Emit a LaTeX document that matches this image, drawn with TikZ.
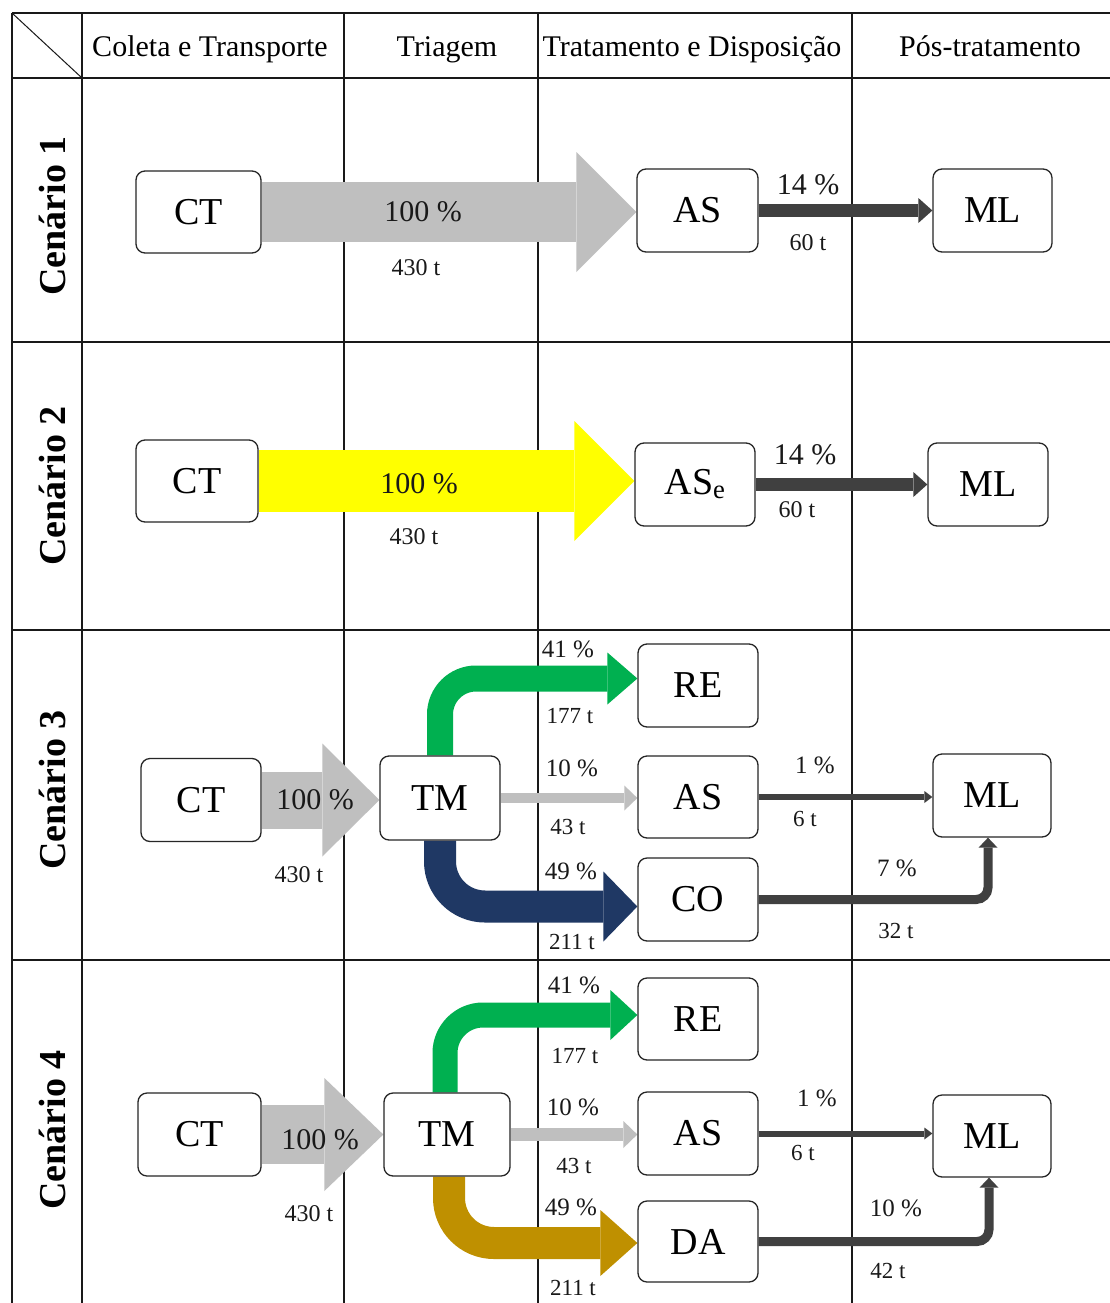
\documentclass[tikz,border=0pt]{standalone}
\usepackage{fontspec}
\setmainfont{Liberation Serif}
\usetikzlibrary{arrows.meta}
\pgfdeclarelayer{back}
\pgfdeclarelayer{mid}
\pgfsetlayers{back,mid,main}
\definecolor{cgray}{RGB}{191,191,191}
\definecolor{cyellow}{RGB}{255,255,0}
\definecolor{cgreen}{RGB}{0,176,80}
\definecolor{cnavy}{RGB}{31,56,100}
\definecolor{cgold}{RGB}{191,144,0}
\definecolor{cdark}{RGB}{64,64,64}
\begin{document}
\begin{tikzpicture}[x=1pt,y=-1pt,
  box/.style={draw=black!85, line width=1.3pt, rounded corners=9pt, fill=white,
    minimum width=120pt, minimum height=83pt, inner sep=0pt,
    font=\fontsize{38}{40}\selectfont},
  pct/.style={font=\fontsize{30}{32}\selectfont, inner sep=0pt, text=black!90},
  ton/.style={font=\fontsize{24}{26}\selectfont, inner sep=0pt, text=black!90},
  spct/.style={font=\fontsize{25}{27}\selectfont, inner sep=0pt, text=black!90},
  ston/.style={font=\fontsize{23}{25}\selectfont, inner sep=0pt, text=black!90},
  hdr/.style={font=\fontsize{30}{32}\selectfont, anchor=base, inner sep=0pt},
  cen/.style={font=\bfseries\fontsize{38}{40}\selectfont, rotate=90, anchor=base, inner sep=0pt},
  grid/.style={line width=1.4pt, black!90},
  flow/.style={line width=#1},
]
\useasboundingbox (0,0) rectangle (1110,1303);

% ---------- table ----------
\begin{pgfonlayer}{back}
\fill[white] (0,0) rectangle (1110,1303);
\draw[grid] (12,13) -- (1110,13);
\draw[grid, line width=2.2pt] (12,78) -- (1110,78);
\draw[grid] (12,342) -- (1110,342);
\draw[grid] (12,630) -- (1110,630);
\draw[grid] (12,960) -- (1110,960);
\foreach \xx in {12,82,344,538,852} {\draw[grid] (\xx,13) -- (\xx,1303);}
\draw[line width=1pt, black!90] (12,13) -- (82,78);
\end{pgfonlayer}

% ---------- header ----------
\node[hdr] (h1) at (210,57) {Coleta e Transporte};
\node[hdr] (h2) at (447,57) {Triagem};
\node[hdr] (h3) at (692,57) {Tratamento e Disposição};
\node[hdr] (h4) at (990,57) {Pós-tratamento};

\node[cen] (c1) at (65,216) {Cenário 1};
\node[cen] (c2) at (65,486) {Cenário 2};
\node[cen] (c3) at (65,790) {Cenário 3};
\node[cen] (c4) at (65,1130) {Cenário 4};

% ---------- boxes ----------
\node[box, minimum width=125pt, minimum height=82pt] (CT1) at (198.5,212) {CT};
\node[box, minimum width=121pt] (AS1) at (697.5,210.5) {AS};
\node[box, minimum width=119pt] (ML1) at (992.5,210.5) {ML};

\node[box, minimum width=122pt, minimum height=82pt] (CT2) at (197,481) {CT};
\node[box] (ASe) at (695,484.5) {AS\textsubscript{e}};
\node[box] (ML2) at (988,484.5) {ML};

\node[box] (CT3) at (201,800) {CT};
\node[box, minimum height=84pt] (TM3) at (440,798) {TM};
\node[box] (RE3) at (698,685.5) {RE};
\node[box, minimum height=82pt] (AS3) at (698,797) {AS};
\node[box] (CO3) at (698,899.5) {CO};
\node[box, minimum width=118pt] (ML3) at (992,795.5) {ML};

\node[box, minimum width=123pt] (CT4) at (199.5,1134.5) {CT};
\node[box, minimum width=126pt] (TM4) at (447,1134.5) {TM};
\node[box, minimum height=82pt] (RE4) at (698,1019) {RE};
\node[box] (AS4) at (698,1133.5) {AS};
\node[box, minimum height=81pt] (DA4) at (698,1241.5) {DA};
\node[box, minimum width=118pt, minimum height=82pt] (ML4) at (992,1136) {ML};

% ---------- flows ----------
\begin{pgfonlayer}{mid}
% scenario 1
\draw[flow=60pt, cgray, -{Triangle[length=60pt,width=120pt,line width=0pt]}]
  (CT1.east) -- (CT1.east -| AS1.west);
\draw[flow=13pt, cdark, -{Triangle[length=14pt,width=25pt,line width=0pt]}]
  (AS1.east) -- (AS1.east -| ML1.west);
% scenario 2
\draw[flow=62pt, cyellow, -{Triangle[length=60pt,width=120pt,line width=0pt]}]
  (CT2.east) -- (CT2.east -| ASe.west);
\draw[flow=13pt, cdark, -{Triangle[length=14pt,width=25pt,line width=0pt]}]
  (ASe.east) -- (ASe.east -| ML2.west);
% scenario 3
\draw[flow=57pt, cgray, -{Triangle[length=57pt,width=113pt,line width=0pt]}]
  (CT3.east) -- (CT3.east -| TM3.west);
\draw[flow=26pt, cgreen, rounded corners=36pt, -{Triangle[length=30pt,width=52pt,line width=0pt]}]
  (TM3.north) |- ([yshift=7pt]RE3.west);
\draw[flow=10pt, cgray, -{Triangle[length=13pt,width=25pt,line width=0pt]}]
  (TM3.east) -- (TM3.east -| AS3.west);
\draw[flow=32pt, cnavy, rounded corners=45pt, -{Triangle[length=34pt,width=70pt,line width=0pt]}]
  (TM3.south) |- ([yshift=-7pt]CO3.west);
\draw[flow=6pt, cdark, -{Triangle[length=8pt,width=12pt,line width=0pt]}]
  (AS3.east) -- (AS3.east -| ML3.west);
\draw[flow=9pt, cdark, rounded corners=12pt, -{Triangle[length=10pt,width=19pt,line width=0pt]}]
  (CO3.east) -| ([xshift=-4pt]ML3.south);
% scenario 4
\draw[flow=59pt, cgray, -{Triangle[length=59pt,width=113pt,line width=0pt]}]
  (CT4.east) -- (CT4.east -| TM4.west);
\draw[flow=25pt, cgreen, rounded corners=38pt, -{Triangle[length=27pt,width=50pt,line width=0pt]}]
  ([xshift=-2pt]TM4.north) |- ([yshift=4pt]RE4.west);
\draw[flow=13pt, cgray, -{Triangle[length=14pt,width=27pt,line width=0pt]}]
  (TM4.east) -- (TM4.east -| AS4.west);
\draw[flow=32pt, cgold, rounded corners=45pt, -{Triangle[length=37pt,width=66pt,line width=0pt]}]
  ([xshift=2pt]TM4.south) |- ([yshift=-1.5pt]DA4.west);
\draw[flow=6pt, cdark, -{Triangle[length=8pt,width=12pt,line width=0pt]}]
  (AS4.east) -- (AS4.east -| ML4.west);
\draw[flow=9pt, cdark, rounded corners=12pt, -{Triangle[length=10pt,width=19pt,line width=0pt]}]
  (DA4.east) -| ([xshift=-3pt]ML4.south);
\end{pgfonlayer}

% ---------- labels ----------
\node[pct] (l1a) at (423,212) {100 \%};
\node[ton] (l1b) at (416,268) {430 t};
\node[pct] (l1c) at (808,185) {14 \%};
\node[ton] (l1d) at (808,243) {60 t};

\node[pct] (l2a) at (419,484) {100 \%};
\node[ton] (l2b) at (414,537) {430 t};
\node[pct] (l2c) at (805,455) {14 \%};
\node[ton] (l2d) at (797,510) {60 t};

\node[pct] (l3a) at (315,800) {100 \%};
\node[ton] (l3b) at (299,875) {430 t};
\node[spct] (l3c) at (568,649) {41 \%};
\node[ston] (l3d) at (570,716) {177 t};
\node[spct] (l3e) at (572,768) {10 \%};
\node[ston] (l3f) at (568,827) {43 t};
\node[spct] (l3g) at (571,871) {49 \%};
\node[ston] (l3h) at (572,942) {211 t};
\node[spct] (l3i) at (815,765) {1 \%};
\node[ston] (l3j) at (805,819) {6 t};
\node[spct] (l3k) at (897,868) {7 \%};
\node[ston] (l3l) at (896,931) {32 t};

\node[pct] (l4a) at (320,1140) {100 \%};
\node[ton] (l4b) at (309,1214) {430 t};
\node[spct] (l4c) at (574,985) {41 \%};
\node[ston] (l4d) at (575,1056) {177 t};
\node[spct] (l4e) at (573,1107) {10 \%};
\node[ston] (l4f) at (574,1166) {43 t};
\node[spct] (l4g) at (571,1207) {49 \%};
\node[ston] (l4h) at (573,1288) {211 t};
\node[spct] (l4i) at (817,1098) {1 \%};
\node[ston] (l4j) at (803,1153) {6 t};
\node[spct] (l4k) at (896,1208) {10 \%};
\node[ston] (l4l) at (888,1271) {42 t};
\end{tikzpicture}
\end{document}
